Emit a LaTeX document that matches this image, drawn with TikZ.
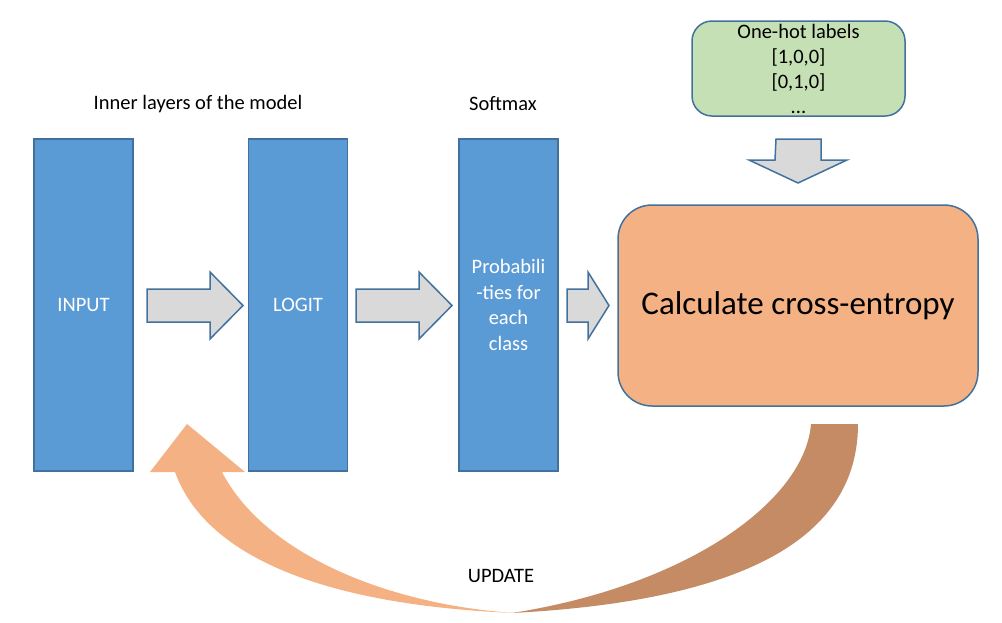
\documentclass[tikz,border=0pt]{standalone}
\usepackage{fontspec}
\setmainfont{Carlito}
\definecolor{bfill}{HTML}{5B9BD5}
\definecolor{bline}{HTML}{41719C}
\definecolor{gfill}{HTML}{D9D9D9}
\definecolor{ofill}{HTML}{F4B183}
\definecolor{lfill}{HTML}{C5E0B4}
\definecolor{brown}{HTML}{C48B65}
\begin{document}
\begin{tikzpicture}[x=1pt,y=-1pt,
  blk/.style={draw=bline,fill=bfill,line width=1.5pt,minimum width=99pt,minimum height=332pt,text=white,font=\fontsize{20.5}{25.5}\selectfont,align=center,inner sep=2pt},
  garrow/.style={draw=bline,fill=gfill,line width=1.5pt,line join=miter},
  lbl/.style={font=\fontsize{20.5}{25}\selectfont}]
\useasboundingbox (0,0) rectangle (1002,622);
\node[blk] (input) at (83.5,305) {INPUT};
\node[blk] (logit) at (298,305) {LOGIT};
\node[blk] (prob) at (508.5,305) {Probabili\\-ties for\\each\\class};
\node[lbl] (inner) at (198,104) {Inner layers of the model};
\node[lbl] (soft) at (503,104) {Softmax};
\node[draw=bline,fill=ofill,line width=1.5pt,rounded corners=34pt,minimum width=360pt,minimum height=201pt,font=\fontsize{33}{36}\selectfont] (ce) at (798,305.5) {Calculate cross-entropy};
\node[draw=bline,fill=lfill,line width=1.5pt,rounded corners=20pt,minimum width=213pt,minimum height=95pt] (oh) at (798.5,68.5) {};
\node[lbl,align=center] (ohtext) at (798.5,69) {One-hot labels\\{}[1,0,0]\\{}[0,1,0]\\...};
% grey arrows
\draw[garrow] (147,289) -- (210,289) -- (210,272) -- (243,305.5) -- (210,339) -- (210,322) -- (147,322) -- cycle;
\draw[garrow] (356,289) -- (419,289) -- (419,272) -- (452,305.5) -- (419,339) -- (419,322) -- (356,322) -- cycle;
\draw[garrow] (567,289) -- (588,289) -- (588,272) -- (609,305.5) -- (588,339) -- (588,322) -- (567,322) -- cycle;
\draw[garrow] (776,139) -- (821,139) -- (821,160) -- (847,160) -- (798,183) -- (749,160) -- (775,160) -- cycle;
% curved update arrow
\fill[brown] (858,424) .. controls (858,530) and (760,600) .. (512,613)
  .. controls (690,585) and (805,500) .. (811,424) -- cycle;
\fill[ofill] (515,613) .. controls (320,605) and (205,555) .. (175,472)
  -- (150,472) -- (187,424) -- (245,472) -- (222,472)
  .. controls (265,555) and (390,605) .. (515,613) -- cycle;
\node[lbl] (upd) at (501,576) {UPDATE};
\end{tikzpicture}
\end{document}
